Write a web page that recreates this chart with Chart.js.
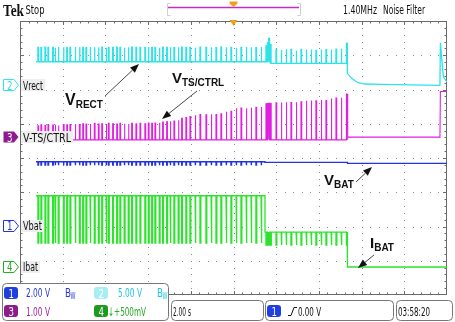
<!DOCTYPE html>
<html>
<head>
<meta charset="utf-8">
<title>Tek capture - Vrect / V-TS/CTRL / Vbat / Ibat</title>
<script src="https://cdn.jsdelivr.net/npm/chart.js@4.4.1/dist/chart.umd.min.js"></script>
<style>
  html, body { margin: 0; padding: 0; background: #fff; }
  canvas { display: block; }
</style>
</head>
<body>
<canvas id="scope" width="455" height="322"></canvas>
<script>
// Pulse instants (s, trigger at 0), shared by every channel
const pulseTimes = [
  -9.16, -9.02, -8.83, -8.69, -8.47, -8.36, -8.21, -7.97, -7.81, -7.66,
  -7.42, -7.22, -7.06, -6.91, -6.72, -6.52, -6.33, -6.17, -5.97, -5.86,
  -5.66, -5.47, -5.32, -5.12, -4.93, -4.77, -4.57, -4.38, -4.15, -3.99,
  -3.83, -3.68, -3.48, -3.32, -3.13, -2.97, -2.79, -2.59, -2.43, -2.23,
  -2.04, -1.80, -1.57, -1.29, -1.05, -0.82, -0.59, -0.35, -0.12, 0.12,
  0.35, 0.59, 0.82, 1.05, 1.29,
  1.52, 1.59, 1.66, 1.73,
  1.99, 2.23, 2.46, 2.69, 2.93, 3.16, 3.40, 3.63, 3.86, 4.10, 4.33, 4.57, 4.80, 5.04,
  5.29
];

// Vrect peak per pulse (V)
const rectPeaks = [
  5.5, 5.45, 5.55, 5.5, 5.5, 5.45, 5.55, 5.5, 5.45, 5.5,
  5.55, 5.5, 5.5, 5.45, 5.55, 5.5, 5.5, 5.55, 5.45, 5.5,
  5.5, 5.55, 5.5, 5.45, 5.5, 5.55, 5.5, 5.5, 5.45, 5.55,
  5.5, 5.5, 5.45, 5.55, 5.5, 5.5, 5.45, 5.5, 5.55, 5.5,
  5.5, 5.45, 5.55, 5.5, 5.5, 5.45, 5.55, 5.5, 5.5, 5.45,
  5.5, 5.55, 5.5, 5.45, 5.55,
  5.7, 6.2, 6.8, 5.9,
  5.2, 5.1, 5.25, 5.2, 5.0, 5.2, 5.15, 5.2, 5.05, 5.2, 5.15, 5.2, 5.25, 5.3,
  6.1
];

// V-TS/CTRL peak per pulse (V)
const tsPeaks = [
  0.33, 0.36, 0.34, 0.37, 0.35, 0.36, 0.34, 0.37, 0.36, 0.37,
  0.38, 0.37, 0.39, 0.38, 0.38, 0.40, 0.38, 0.39, 0.38, 0.40,
  0.39, 0.38, 0.40, 0.39, 0.38, 0.40, 0.39, 0.40, 0.39, 0.41,
  0.40, 0.41, 0.42, 0.44, 0.45, 0.46, 0.47, 0.49, 0.55, 0.57,
  0.60, 0.64, 0.66, 0.65, 0.67, 0.66, 0.68, 0.74, 0.75, 0.84,
  0.85, 0.84, 0.86, 0.87, 0.88,
  0.97, 0.98, 0.99, 0.98,
  1.00, 1.01, 1.02, 1.01, 1.02, 1.03, 1.06, 1.07, 1.06, 1.08, 1.07, 1.13, 1.14, 1.15,
  1.26
];

// Resting levels between pulses: [from time (s), level (V)]
const rectBase  = [[-9.25, 3.4], [1.72, 3.17]];
const tsBase    = [[-9.25, -0.08], [5.36, 0]];
const vbatBase  = [[-9.25, 3.75], [1.475, 3.72], [5.34, 3.66]];
const ibatBase  = [[-9.25, 1.04], [1.475, 0.51], [5.34, 0]];
const ibatDips  = [[-10, 0.35], [1.475, 0.32]];
const vbatDip   = 3.55;
const vbatDipEnd = 1.475;

// Trace after the pulse train stops: [time (s), level (V)]
const rectTail = [
  [5.33, 3.17], [5.35, 1.71], [5.54, 0.98], [5.69, 0.63], [5.85, 0.34],
  [6.16, 0.15], [6.94, 0.10], [9.59, -0.05], [9.67, -0.05], [9.69, 6.18],
  [9.83, 1.21], [9.99, 0.48]
];
const tsTail   = [[9.67, 0], [9.69, 1.33], [10, 1.33]];
const vbatTail = [[10, 3.66]];
const ibatTail = [[10, 0]];

// Vertical setup: ground position (divisions from bottom) and V/div
const CH = {
  vbat:  { ground: 2.015, vdiv: 2.0 },
  vrect: { ground: 6.13,  vdiv: 5.0 },
  ts:    { ground: 4.61,  vdiv: 1.0 },
  ibat:  { ground: 0.818, vdiv: 0.5 }
};

function levelAt(steps, t) {
  let v = steps[0][1];
  steps.forEach(([st, sv]) => { if (t >= st) v = sv; });
  return v;
}

// Merge base-level steps and pulses into one time-ordered polyline
function buildTrace(baseSteps, pulses, width, tail, ch) {
  const events = [];
  baseSteps.forEach(([t, v]) => events.push({ t, step: true, v }));
  pulses.forEach(p => events.push({ t: p.t, step: false, v: p.v }));
  events.sort((a, b) => a.t - b.t);

  const pts = [];
  let base = null;
  events.forEach(e => {
    if (e.step) {
      if (base !== null) pts.push([e.t, base]);
      base = e.v;
      pts.push([e.t, base]);
    } else {
      pts.push([e.t, base], [e.t, e.v], [e.t + width, e.v], [e.t + width, base]);
    }
  });
  tail.forEach(p => pts.push(p));
  return pts.map(([t, v]) => ({ x: t, y: ch.ground + v / ch.vdiv }));
}

const rectData = buildTrace(rectBase,
  pulseTimes.map((t, i) => ({ t, v: rectPeaks[i] })), 0.03, rectTail, CH.vrect);
const tsData = buildTrace(tsBase,
  pulseTimes.map((t, i) => ({ t, v: tsPeaks[i] })), 0.035, tsTail, CH.ts);
const vbatData = buildTrace(vbatBase,
  pulseTimes.filter(t => t < vbatDipEnd).map(t => ({ t, v: vbatDip })), 0.03, vbatTail, CH.vbat);
const ibatData = buildTrace(ibatBase,
  pulseTimes.map(t => ({ t, v: levelAt(ibatDips, t) })), 0.04, ibatTail, CH.ibat);

const COLORS = {
  vbat: '#2233e0',
  vrect: '#2fe2e8',
  ts: '#e01fe0',
  ibat: '#2de32d'
};

const SCOPE_FONT = '"DejaVu Sans Condensed", "Liberation Sans Narrow", "DejaVu Sans", sans-serif';

// Text squeezed to a given width, like the narrow scope font
function scopeText(ctx, text, x, y, width, size, color, font, weight) {
  ctx.save();
  ctx.font = (weight ? weight + ' ' : '') + size + 'px ' + (font || SCOPE_FONT);
  const w = ctx.measureText(text).width;
  ctx.translate(x, y);
  ctx.scale(width / w, 1);
  ctx.fillStyle = color;
  ctx.textBaseline = 'alphabetic';
  ctx.fillText(text, 0, 0);
  ctx.restore();
}

function roundRect(ctx, x, y, w, h, r) {
  ctx.beginPath();
  ctx.moveTo(x + r, y);
  ctx.lineTo(x + w - r, y);
  ctx.quadraticCurveTo(x + w, y, x + w, y + r);
  ctx.lineTo(x + w, y + h - r);
  ctx.quadraticCurveTo(x + w, y + h, x + w - r, y + h);
  ctx.lineTo(x + r, y + h);
  ctx.quadraticCurveTo(x, y + h, x, y + h - r);
  ctx.lineTo(x, y + r);
  ctx.quadraticCurveTo(x, y, x + r, y);
  ctx.closePath();
}

// Channel ground marker on the left edge
function groundMarker(ctx, y, num, name, nameWidth, color, filled) {
  ctx.save();
  ctx.beginPath();
  ctx.moveTo(3.5, y - 5.5);
  ctx.lineTo(14, y - 5.5);
  ctx.lineTo(18.5, y);
  ctx.lineTo(14, y + 5.5);
  ctx.lineTo(3.5, y + 5.5);
  ctx.closePath();
  if (filled) {
    ctx.fillStyle = color;
    ctx.fill();
  } else {
    ctx.fillStyle = '#fff';
    ctx.fill();
    ctx.strokeStyle = color;
    ctx.lineWidth = 1;
    ctx.stroke();
  }
  scopeText(ctx, num, 7, y + 4.5, 5.5, 12, filled ? '#fff' : color);
  ctx.fillStyle = '#eeeeee';
  ctx.fillRect(21, y - 6, nameWidth + 4, 12);
  scopeText(ctx, name, 23, y + 4.5, nameWidth, 12, '#111');
  ctx.restore();
}

function badge(ctx, x, y, num, color) {
  ctx.save();
  roundRect(ctx, x, y, 14, 12, 3);
  ctx.fillStyle = color;
  ctx.fill();
  scopeText(ctx, num, x + 4.5, y + 10.5, 5.5, 12, '#fff');
  ctx.restore();
}

function arrow(ctx, x1, y1, x2, y2) {
  const ang = Math.atan2(y2 - y1, x2 - x1);
  const len = 9, half = 3.5;
  ctx.save();
  ctx.strokeStyle = '#333';
  ctx.fillStyle = '#111';
  ctx.lineWidth = 0.9;
  ctx.beginPath();
  ctx.moveTo(x1, y1);
  ctx.lineTo(x2 - Math.cos(ang) * len, y2 - Math.sin(ang) * len);
  ctx.stroke();
  ctx.beginPath();
  ctx.moveTo(x2, y2);
  ctx.lineTo(x2 - Math.cos(ang) * len - Math.sin(ang) * half, y2 - Math.sin(ang) * len + Math.cos(ang) * half);
  ctx.lineTo(x2 - Math.cos(ang) * len + Math.sin(ang) * half, y2 - Math.sin(ang) * len - Math.cos(ang) * half);
  ctx.closePath();
  ctx.fill();
  ctx.restore();
}

function subLabel(ctx, main, sub, x, y, mainSize) {
  ctx.save();
  ctx.fillStyle = '#111';
  ctx.textBaseline = 'alphabetic';
  ctx.font = 'bold ' + mainSize + 'px "Liberation Sans", Arial, sans-serif';
  ctx.fillText(main, x, y);
  const w = ctx.measureText(main).width;
  ctx.font = 'bold 10px "Liberation Sans", Arial, sans-serif';
  ctx.fillText(sub, x + w, y + 3);
  ctx.restore();
}

// Tek style graticule: dotted divisions and ruled border
const graticule = {
  id: 'graticule',
  beforeDatasetsDraw(chart) {
    const { ctx, chartArea: a } = chart;
    const dx = (a.right - a.left) / 10;
    const dy = (a.bottom - a.top) / 8;
    ctx.save();
    ctx.fillStyle = '#8a8a8a';
    for (let i = 1; i < 10; i++) {
      const x = Math.round(a.left + i * dx);
      for (let k = 1; k < 40; k++) ctx.fillRect(x, Math.round(a.top + k * dy / 5), 1, 1);
    }
    for (let j = 1; j < 8; j++) {
      const y = Math.round(a.top + j * dy);
      for (let k = 1; k < 50; k++) ctx.fillRect(Math.round(a.left + k * dx / 5), y, 1, 1);
    }

    ctx.strokeStyle = '#6a6a6a';
    ctx.lineWidth = 1;
    ctx.strokeRect(Math.round(a.left) + 0.5, Math.round(a.top) + 0.5,
      Math.round(a.right - a.left) - 1, Math.round(a.bottom - a.top) - 1);
    ctx.beginPath();
    for (let k = 1; k < 50; k++) {
      const x = Math.round(a.left + k * dx / 5) + 0.5;
      const l = k % 5 === 0 ? 4 : 2.5;
      ctx.moveTo(x, a.top); ctx.lineTo(x, a.top + l);
      ctx.moveTo(x, a.bottom); ctx.lineTo(x, a.bottom - l);
    }
    for (let k = 1; k < 40; k++) {
      const y = Math.round(a.top + k * dy / 5) + 0.5;
      const l = k % 5 === 0 ? 4 : 2.5;
      ctx.moveTo(a.left, y); ctx.lineTo(a.left + l, y);
      ctx.moveTo(a.right, y); ctx.lineTo(a.right - l, y);
    }
    ctx.stroke();
    ctx.restore();
  },
  afterDraw(chart) {
    const { ctx, chartArea: a, scales } = chart;
    const yOf = v => scales.y.getPixelForValue(v);
    const xMid = scales.x.getPixelForValue(0);

    // header
    scopeText(ctx, 'Tek', 3, 16, 21, 17, '#111', '"Liberation Serif", "DejaVu Serif", serif', 'bold');
    scopeText(ctx, 'Stop', 25.5, 13.5, 19, 11.5, '#111');
    scopeText(ctx, '1.40MHz', 343, 14, 34, 11.5, '#111');
    scopeText(ctx, 'Noise Filter', 383, 14, 42, 11.5, '#111');

    ctx.save();
    ctx.strokeStyle = '#cfcfcf';
    ctx.lineWidth = 1;
    ctx.beginPath();
    ctx.moveTo(170.5, 3.5); ctx.lineTo(167.5, 3.5); ctx.lineTo(167.5, 15.5); ctx.lineTo(170.5, 15.5);
    ctx.moveTo(297.5, 3.5); ctx.lineTo(300.5, 3.5); ctx.lineTo(300.5, 15.5); ctx.lineTo(297.5, 15.5);
    ctx.stroke();
    ctx.strokeStyle = '#c22cc2';
    ctx.lineWidth = 1.5;
    ctx.beginPath();
    ctx.moveTo(168, 7.5); ctx.lineTo(299, 7.5);
    ctx.stroke();
    ctx.fillStyle = '#f0a020';
    ctx.beginPath();
    ctx.moveTo(xMid - 4, 1.5); ctx.lineTo(xMid + 4, 1.5); ctx.lineTo(xMid + 4, 3.5);
    ctx.lineTo(xMid, 7); ctx.lineTo(xMid - 4, 3.5); ctx.closePath();
    ctx.fill();
    ctx.beginPath();
    ctx.moveTo(xMid - 4, a.top - 1); ctx.lineTo(xMid + 4, a.top - 1); ctx.lineTo(xMid, a.top + 5);
    ctx.closePath();
    ctx.fill();
    ctx.restore();

    // ground markers
    groundMarker(ctx, yOf(CH.vrect.ground), '2', 'Vrect', 20, COLORS.vrect, false);
    groundMarker(ctx, yOf(CH.ts.ground), '3', 'V-TS/CTRL', 48, '#8c1c8c', true);
    groundMarker(ctx, yOf(CH.vbat.ground), '1', 'Vbat', 19, COLORS.vbat, false);
    groundMarker(ctx, yOf(CH.ibat.ground), '4', 'Ibat', 15, '#22aa22', false);

    // annotations
    subLabel(ctx, 'V', 'RECT', 65, 105, 16);
    arrow(ctx, 105, 96, 139, 64);
    subLabel(ctx, 'V', 'TS/CTRL', 172, 83, 15);
    arrow(ctx, 197, 91, 162, 119);
    subLabel(ctx, 'V', 'BAT', 324, 185, 15);
    arrow(ctx, 356, 182, 372, 167);
    subLabel(ctx, 'I', 'BAT', 370, 248, 15);
    arrow(ctx, 374, 255, 358, 268);

    // readout boxes
    ctx.save();
    ctx.strokeStyle = '#777';
    ctx.lineWidth = 1;
    ctx.fillStyle = '#fff';
    roundRect(ctx, 2.5, 283.5, 166, 37, 4); ctx.fill(); ctx.stroke();
    roundRect(ctx, 171.5, 300.5, 92, 20, 4); ctx.fill(); ctx.stroke();
    roundRect(ctx, 265.5, 300.5, 128, 20, 4); ctx.fill(); ctx.stroke();
    roundRect(ctx, 396.5, 300.5, 56, 20, 4); ctx.fill(); ctx.stroke();
    ctx.restore();

    badge(ctx, 4, 287, '1', '#1f3fe0');
    scopeText(ctx, '2.00 V', 26, 297, 24, 12, '#2a3ad8');
    scopeText(ctx, 'B', 65, 297, 6, 12, '#2a3ad8');
    scopeText(ctx, 'W', 70.5, 299, 5, 8, '#2a3ad8');
    badge(ctx, 94, 287, '2', '#a6eef4');
    scopeText(ctx, '5.00 V', 118, 297, 24, 12, '#1fc6dc');
    scopeText(ctx, 'B', 157, 297, 6, 12, '#1fc6dc');
    scopeText(ctx, 'W', 162.5, 299, 5, 8, '#1fc6dc');

    badge(ctx, 4, 305, '3', '#8c1c8c');
    scopeText(ctx, '1.00 V', 26, 315.5, 24, 12, '#a524a5');
    badge(ctx, 94, 305, '4', '#1e9a1e');
    scopeText(ctx, '\u2193+500mV', 108, 315.5, 38, 12, '#25a825');

    scopeText(ctx, '2.00 s', 173, 315.5, 18, 12, '#111');
    badge(ctx, 267, 305, '1', '#1f3fe0');
    ctx.save();
    ctx.strokeStyle = '#111';
    ctx.lineWidth = 1;
    ctx.beginPath();
    ctx.moveTo(288, 315.5); ctx.lineTo(291, 315.5); ctx.lineTo(294, 307.5); ctx.lineTo(297, 307.5);
    ctx.stroke();
    ctx.restore();
    scopeText(ctx, '0.00 V', 298, 315.5, 23, 12, '#111');
    scopeText(ctx, '03:58:20', 398, 315.5, 32, 12, '#111');
  }
};

function traceSet(label, data, color, width) {
  return {
    label,
    data,
    borderColor: color,
    backgroundColor: color,
    borderWidth: width,
    pointRadius: 0,
    tension: 0,
    fill: false
  };
}

new Chart(document.getElementById('scope'), {
  type: 'line',
  data: {
    datasets: [
      traceSet('Vrect', rectData, COLORS.vrect, 1.3),
      traceSet('V-TS/CTRL', tsData, COLORS.ts, 1.1),
      traceSet('Vbat', vbatData, COLORS.vbat, 1.3),
      traceSet('Ibat', ibatData, COLORS.ibat, 1.3)
    ]
  },
  options: {
    responsive: false,
    animation: false,
    devicePixelRatio: 1,
    parsing: false,
    normalized: true,
    layout: { padding: { left: 20, right: 8, top: 21, bottom: 27 } },
    scales: {
      x: { type: 'linear', min: -10, max: 10, display: false },
      y: { type: 'linear', min: 0, max: 8, display: false }
    },
    plugins: {
      legend: { display: false },
      tooltip: { enabled: false }
    }
  },
  plugins: [graticule]
});
</script>
</body>
</html>
